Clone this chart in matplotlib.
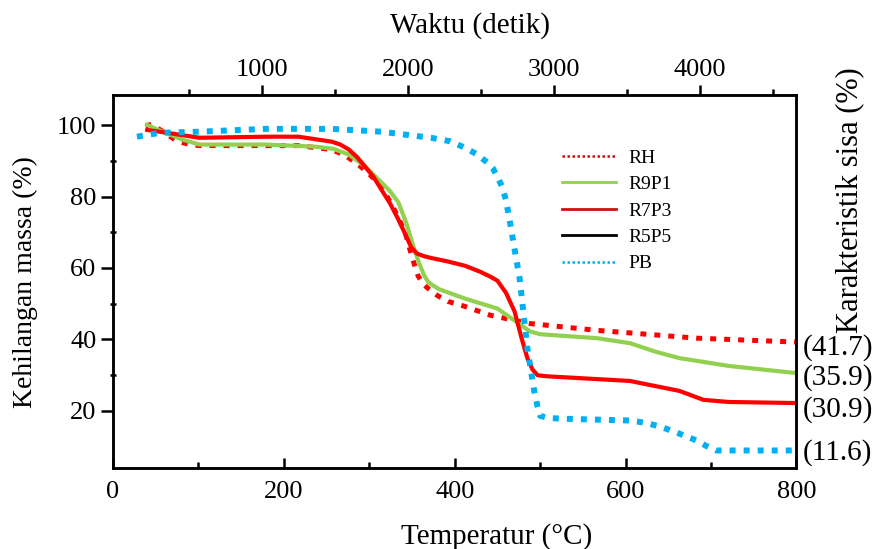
import matplotlib
matplotlib.use('Agg')
import matplotlib.pyplot as plt
from matplotlib.lines import Line2D

plt.rcParams['font.family'] = ['Liberation Serif', 'DejaVu Serif']

# TGA curves: temperature (C) vs mass (%)
rh_t = [38, 45, 60, 75, 90, 101, 180, 217, 256, 272, 287, 300, 314, 328, 342, 350, 357, 363, 369,
        380, 392, 412, 442, 488, 566, 683, 800]
rh_v = [99.8, 100.3, 98.0, 95.5, 94.6, 94.3, 94.3, 94.3, 93.2, 91.5, 89.0, 86.3, 82.9, 77.0, 70.0, 63.0,
        57.8, 55.5, 54.2, 52.2, 50.6, 49.2, 46.7, 44.4, 42.5, 40.3, 39.2]

r9p1_t = [40, 50, 81, 101, 179, 237, 258, 276, 295, 314, 324, 334, 343, 351, 358, 364, 369, 375, 382,
          412, 450, 488, 500, 566, 605, 635, 663, 721, 800]
r9p1_v = [100.1, 99.0, 96.0, 94.6, 94.6, 94.0, 93.4, 91.8, 88.5, 84.0, 81.6, 78.4, 72.8, 66.5, 61.5,
          58.0, 56.0, 55.0, 54.0, 51.4, 48.6, 42.2, 41.4, 40.3, 38.9, 36.5, 34.7, 32.5, 30.5]

r7p3_t = [40, 63, 101, 179, 217, 256, 266, 276, 286, 295, 305, 314, 324, 334, 342, 349, 356, 364, 372,
          392, 412, 430, 442, 450, 460, 470, 478, 485, 491, 497, 508, 605, 663, 691, 721, 800]
r7p3_v = [98.7, 97.9, 96.5, 96.8, 96.8, 95.4, 94.6, 93.2, 91.0, 88.4, 85.5, 82.0, 78.2, 73.6, 69.5,
          65.8, 64.0, 63.3, 62.8, 61.8, 60.6, 58.9, 57.5, 56.4, 53.0, 47.8, 40.5, 34.7, 31.5, 29.9,
          29.6, 28.3, 25.5, 23.0, 22.4, 22.1]

pb_t = [28, 55, 101, 179, 256, 314, 372, 395, 412, 425, 438, 445, 450, 455, 460, 465, 471, 476, 485,
        493, 497, 500, 510, 528, 605, 625, 644, 660, 683, 695, 706, 800]
pb_v = [96.8, 97.9, 98.2, 99.0, 99.0, 98.2, 96.5, 95.5, 93.7, 92.0, 89.6, 87.8, 85.5, 83.0, 79.0,
        72.3, 63.9, 57.0, 37.5, 25.5, 21.0, 18.5, 17.9, 17.7, 17.2, 16.5, 15.2, 13.8, 11.6, 10.0, 8.8, 8.8]

series_names = ['RH', 'R9P1', 'R7P3', 'R5P5', 'PB']
residue_labels = ['(41.7)', '(35.9)', '(30.9)', '(11.6)']
residue_y = [37.8, 29.2, 20.3, 8.2]

x_ticks = [0, 200, 400, 600, 800]
y_ticks = [20, 40, 60, 80, 100]
time_ticks = [1000, 2000, 3000, 4000]

fig = plt.figure(figsize=(8.83, 5.49), dpi=100)
ax = fig.add_axes([0.128, 0.147, 0.774, 0.680])

ax.plot(rh_t, rh_v, color='#ff0000', lw=3.6, ls=(0, (1.2, 1.6)))
ax.plot(r9p1_t, r9p1_v, color='#92d050', lw=3)
ax.plot(r7p3_t, r7p3_v, color='#ff0000', lw=3)
ax.plot(pb_t, pb_v, color='#00b0f0', lw=4.3, ls=(0, (1, 1.35)))

ax.set_xlim(0, 800)
ax.set_ylim(3.8, 108.5)
ax.set_xticks(x_ticks)
ax.set_xticks([100, 300, 500, 700], minor=True)
ax.set_yticks(y_ticks)
ax.set_yticks([30, 50, 70, 90], minor=True)
ax.tick_params(axis='x', which='major', direction='in', length=7, width=1.8, pad=9, labelsize=19)
ax.tick_params(axis='x', which='minor', direction='in', length=4, width=1.8)
ax.tick_params(axis='y', which='major', direction='out', length=9, width=1.8, pad=3, labelsize=19)
ax.tick_params(axis='y', which='minor', direction='inout', length=5, width=1.8)
for s in ax.spines.values():
    s.set_linewidth(1.8)

ax2 = ax.twiny()
ax2.set_xlim(-20, 4660)
ax2.set_xticks(time_ticks)
ax2.set_xticks([500, 1500, 2500, 3500, 4500], minor=True)
ax2.tick_params(axis='x', which='major', direction='out', length=7, width=1.8, pad=3, labelsize=19)
ax2.tick_params(axis='x', which='minor', direction='out', length=4.5, width=1.8)
for s in ax2.spines.values():
    s.set_linewidth(1.8)

for lab, yv in zip(residue_labels, residue_y):
    ax.text(807, yv, lab, fontsize=21, va='center', ha='left', clip_on=False)

handles = [
    Line2D([], [], color='#d01010', lw=1.8, ls=(0, (1, 1))),
    Line2D([], [], color='#92d050', lw=2),
    Line2D([], [], color='#d01010', lw=2),
    Line2D([], [], color='black', lw=2),
    Line2D([], [], color='#00b0f0', lw=1.8, ls=(0, (1, 1))),
]
ax.legend(handles, series_names, loc='upper left', bbox_to_anchor=(0.636, 0.728),
          bbox_transform=fig.transFigure, frameon=False, fontsize=14,
          handlelength=2.8, handletextpad=0.65, labelspacing=0.45,
          borderpad=0, borderaxespad=0)

fig.text(497 / 883, 1 - 537 / 549, 'Temperatur (°C)', fontsize=21, ha='center', va='center')
fig.text(25 / 883, 1 - 282 / 549, 'Kehilangan massa (%)', fontsize=20, rotation=90,
         ha='center', va='center')
fig.text(850 / 883, 1 - 200 / 549, 'Karakteristik sisa (%)', fontsize=22, rotation=90,
         ha='center', va='center')
fig.text(470 / 883, 1 - 33 / 549, 'Waktu (detik)', fontsize=21, ha='center', va='baseline')

plt.savefig('out.png', dpi=100)
